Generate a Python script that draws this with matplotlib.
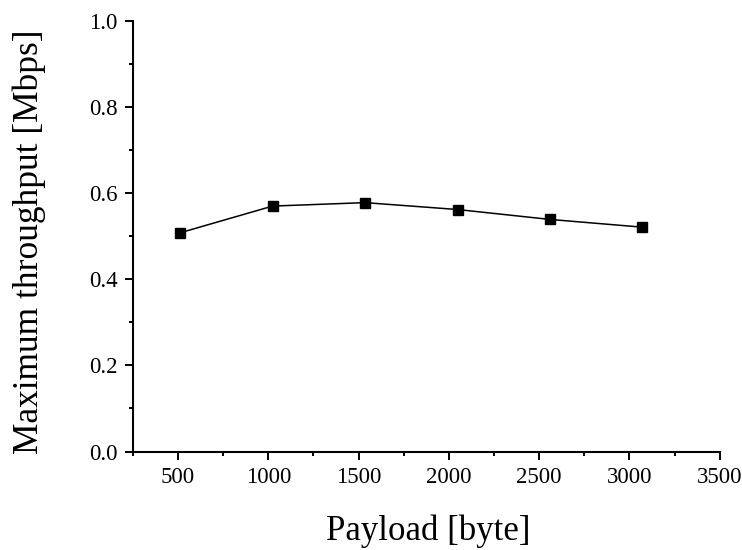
import matplotlib
matplotlib.use("Agg")
import matplotlib.pyplot as plt
from matplotlib.ticker import MultipleLocator, FormatStrFormatter

payload = [512, 1024, 1536, 2048, 2560, 3072]
throughput = [0.508, 0.570, 0.578, 0.562, 0.539, 0.521]

plt.rcParams["font.family"] = ["Liberation Serif", "DejaVu Serif"]

fig = plt.figure(figsize=(7.42, 5.5), dpi=100)
ax = fig.add_axes([0.179, 0.179, 0.791, 0.783])

ax.plot(payload, throughput, color="black", linewidth=1.1,
        marker="s", markersize=6.8, markerfacecolor="black", markeredgecolor="black")

ax.set_xlim(250, 3500)
ax.set_ylim(0.0, 1.0)
ax.xaxis.set_major_locator(MultipleLocator(500))
ax.xaxis.set_minor_locator(MultipleLocator(250))
ax.yaxis.set_major_locator(MultipleLocator(0.2))
ax.yaxis.set_minor_locator(MultipleLocator(0.1))
ax.yaxis.set_major_formatter(FormatStrFormatter("%.1f"))

for side in ("top", "right"):
    ax.spines[side].set_visible(False)
for side in ("left", "bottom"):
    ax.spines[side].set_linewidth(1.5)

ax.tick_params(which="major", direction="out", length=6, width=1.4, labelsize=16.5, pad=5)
ax.tick_params(which="minor", direction="out", length=3, width=1.4)

fig.text(428 / 742, 1 - 531 / 550, "Payload [byte]", fontsize=25,
         ha="center", va="center")
fig.text(29 / 742, 1 - 242 / 550, "Maximum throughput [Mbps]", fontsize=25.5,
         ha="center", va="center", rotation=90)

fig.savefig("out.png", dpi=100)
